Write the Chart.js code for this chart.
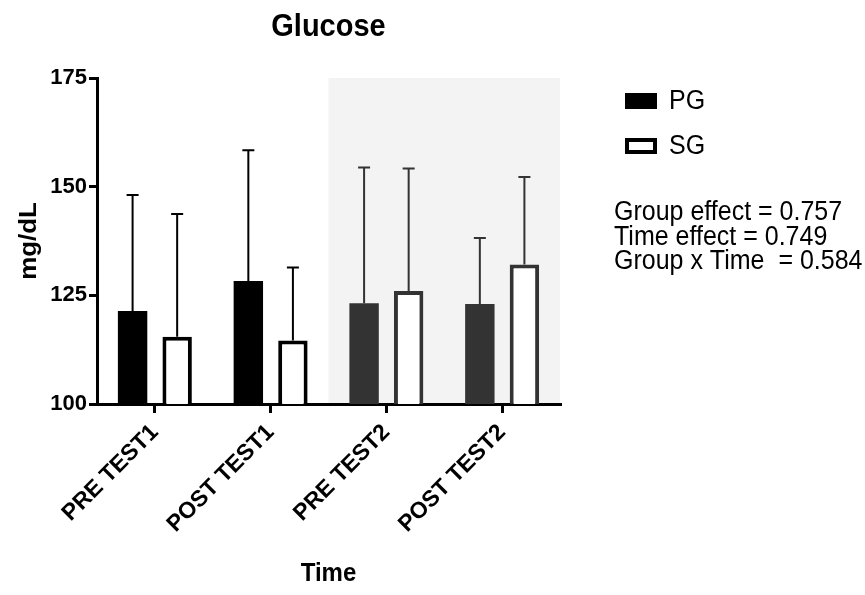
<!DOCTYPE html>
<html>
<head>
<meta charset="utf-8">
<script src="https://cdn.jsdelivr.net/npm/chart.js@4"></script>
<style>
  html, body { margin: 0; padding: 0; background: #fff; }
  #wrap { width: 865px; height: 595px; position: relative; }
</style>
</head>
<body>
<div id="wrap"><canvas id="glucose"></canvas></div>
<script>
// ==========================
// DADOS
// ==========================
const categories = ['PRE TEST1', 'POST TEST1', 'PRE TEST2', 'POST TEST2'];
const pgMean = [121.4, 128.3, 123.2, 123.0];
const pgSD   = [26.7, 30.1, 31.2, 15.2];
const sgMean = [115.5, 114.6, 126.0, 132.1];
const sgSD   = [28.2, 16.8, 28.2, 20.1];
const yTicks = [100, 125, 150, 175];
const statsLines = ['Group effect = 0.757', 'Time effect = 0.749', 'Group x Time  = 0.584'];

const barColors = ['#000000', '#000000', '#333333', '#333333'];
const FONT = '"Liberation Sans", Arial, sans-serif';
const STRETCH = 1.08; // texto um pouco mais alto que largo, como no original

// ==========================
// PLUGINS
// ==========================
const shadePlugin = {
  id: 'shade',
  beforeDraw(chart) {
    const { ctx, chartArea, scales } = chart;
    const x0 = (scales.x.getPixelForValue(1) + scales.x.getPixelForValue(2)) / 2;
    const y0 = scales.y.getPixelForValue(175);
    ctx.save();
    ctx.fillStyle = '#f3f3f3';
    ctx.fillRect(x0, y0, chartArea.right - x0, chartArea.bottom - y0);
    ctx.restore();
  }
};

const errorBars = {
  id: 'errorBars',
  afterDatasetsDraw(chart) {
    const { ctx, scales } = chart;
    const sds = [pgSD, sgSD];
    const means = [pgMean, sgMean];
    chart.data.datasets.forEach((ds, i) => {
      const meta = chart.getDatasetMeta(i);
      meta.data.forEach((bar, j) => {
        const yTop = scales.y.getPixelForValue(means[i][j] + sds[i][j]);
        ctx.save();
        ctx.strokeStyle = barColors[j];
        ctx.lineWidth = 2;
        ctx.beginPath();
        ctx.moveTo(bar.x, bar.y);
        ctx.lineTo(bar.x, yTop);
        ctx.moveTo(bar.x - 6, yTop);
        ctx.lineTo(bar.x + 6, yTop);
        ctx.stroke();
        ctx.restore();
      });
    });
  }
};

function texto(ctx, s, x, y, font, align, rot) {
  ctx.save();
  ctx.translate(x, y);
  if (rot) ctx.rotate(rot);
  if (rot) ctx.scale(STRETCH, 1); else ctx.scale(1, STRETCH);
  ctx.font = font;
  ctx.textAlign = align;
  ctx.textBaseline = 'middle';
  ctx.fillText(s, 0, 0);
  ctx.restore();
}

const textos = {
  id: 'textos',
  afterDraw(chart) {
    const { ctx, chartArea } = chart;
    const cx = (chartArea.left + chartArea.right) / 2;
    ctx.save();
    ctx.fillStyle = '#000';

    texto(ctx, 'Glucose', cx, 27, 'bold 29px ' + FONT, 'center');
    texto(ctx, 'Time', cx, 574, 'bold 24px ' + FONT, 'center');
    texto(ctx, 'mg/dL', 29, (chartArea.top + chartArea.bottom) / 2, 'bold 24px ' + FONT, 'center', -Math.PI / 2);

    // legenda
    ctx.fillRect(625, 93, 32, 16);
    ctx.lineWidth = 4;
    ctx.strokeStyle = '#000';
    ctx.strokeRect(627, 140, 28, 12);
    texto(ctx, chart.data.datasets[0].label, 669, 102, '25px ' + FONT, 'left');
    texto(ctx, chart.data.datasets[1].label, 669, 147, '25px ' + FONT, 'left');

    // estatisticas
    statsLines.forEach((s, i) => texto(ctx, s, 614, 213 + i * 24.5, '25px ' + FONT, 'left'));
    ctx.restore();
  }
};

// ==========================
// GRAFICO
// ==========================
new Chart(document.getElementById('glucose'), {
  type: 'bar',
  data: {
    labels: categories,
    datasets: [
      {
        label: 'PG',
        data: pgMean,
        backgroundColor: barColors,
        borderWidth: 0,
        categoryPercentage: 0.77,
        barPercentage: 0.66
      },
      {
        label: 'SG',
        data: sgMean,
        backgroundColor: '#ffffff',
        borderColor: barColors,
        borderWidth: 4,
        categoryPercentage: 0.77,
        barPercentage: 0.66
      }
    ]
  },
  options: {
    responsive: true,
    maintainAspectRatio: false,
    animation: false,
    events: [],
    layout: { padding: { top: 78, right: 305, left: 0, bottom: 0 } },
    plugins: {
      legend: { display: false },
      title: { display: false },
      tooltip: { enabled: false }
    },
    scales: {
      x: {
        type: 'category',
        offset: true,
        afterFit(scale) { scale.height = 191; },
        grid: { display: true, offset: false, drawOnChartArea: false, tickLength: 9, lineWidth: 3, color: '#000' },
        border: { display: true, width: 3, color: '#000' },
        ticks: {
          autoSkip: false,
          minRotation: 45,
          maxRotation: 45,
          padding: 6,
          color: '#000',
          font: { family: FONT, size: 23, weight: 'bold' }
        }
      },
      y: {
        min: yTicks[0],
        max: yTicks[yTicks.length - 1],
        afterFit(scale) { scale.width = 97; },
        afterBuildTicks(scale) { scale.ticks = yTicks.map(v => ({ value: v })); },
        grid: { display: true, drawOnChartArea: false, tickLength: 8, lineWidth: 3, color: '#000' },
        border: { display: true, width: 3, color: '#000' },
        ticks: {
          padding: 2,
          color: '#000',
          font: { family: FONT, size: 22, weight: 'bold' }
        }
      }
    }
  },
  plugins: [shadePlugin, errorBars, textos]
});
</script>
</body>
</html>
